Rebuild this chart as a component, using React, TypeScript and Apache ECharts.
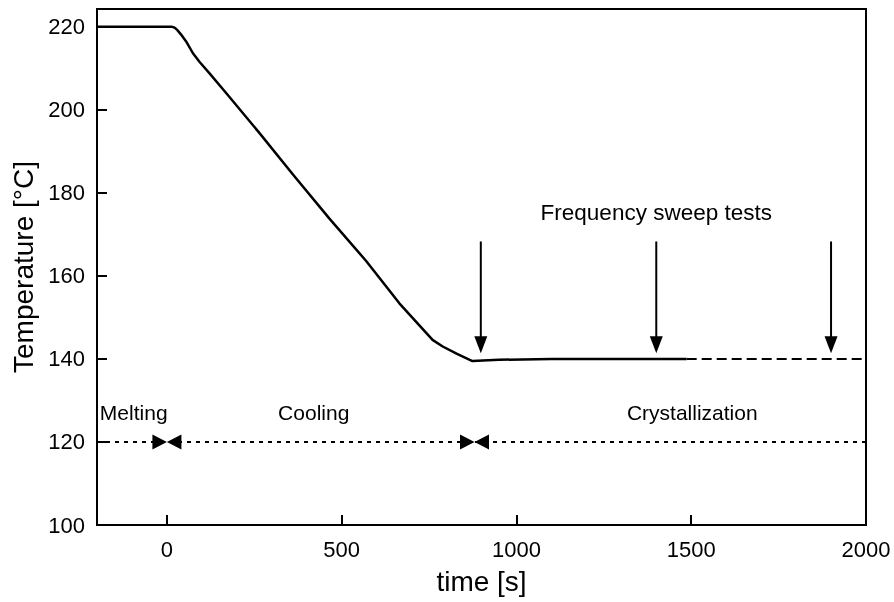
import React, { useEffect, useRef } from "react";
import * as echarts from "echarts";

// Temperature profile (solid part)
const timeSolid = [-200, 15, 22, 30, 40, 55, 74, 93, 122, 170, 265, 360, 465, 570, 665, 760, 789, 830, 874, 950, 1100, 1487];
const tempSolid = [220, 220, 219.8, 219.2, 218.2, 216.5, 213.7, 211.6, 208.8, 204, 194.4, 184.5, 173.8, 163.6, 153.4, 144.6, 143, 141.2, 139.5, 139.8, 140, 140];
// Dashed continuation
const timeDashed = [1487, 2000];
const tempDashed = [140, 140];
// Phase line
const phaseTime = [-200, 2000];
const phaseTemp = [120, 120];
const phaseBoundaries = [0, 880];
// Frequency sweep arrows
const arrowTimes = [898, 1400, 1900];
const arrowTop = 168.3;
const arrowTip = 141.4;
// Annotations
const annotationNames = ["Frequency sweep tests", "Melting", "Cooling", "Crystallization"];
const annotationTime = [1400, -95, 420, 1503];
const annotationTemp = [175.2, 127, 127, 127];
const annotationSize = [22.5, 21, 21, 21];
// Ticks
const xTicks = [0, 500, 1000, 1500, 2000];
const yTicks = [100, 120, 140, 160, 180, 200, 220];

const FONT = "'Liberation Sans', Arial, Helvetica, sans-serif";

export default function App() {
  const ref = useRef<HTMLDivElement>(null);
  useEffect(() => {
    if (!ref.current) return;
    const chart = echarts.init(ref.current, undefined, { renderer: "svg" });
    const arrowSeries: any[] = [];
    arrowTimes.forEach((t, i) => {
      arrowSeries.push({
        name: "arrow" + i,
        type: "line",
        data: [
          [t, arrowTop],
          [t, arrowTip + 1.5],
        ],
        symbol: "none",
        lineStyle: { color: "#000", width: 2 },
        z: 3,
      });
    });
    chart.setOption({
      animation: false,
      textStyle: { fontFamily: FONT },
      grid: {
        left: 97,
        right: 28,
        top: 9,
        bottom: 77,
        show: true,
        borderColor: "#000",
        borderWidth: 2,
        backgroundColor: "transparent",
      },
      xAxis: {
        type: "value",
        min: -200,
        max: 2000,
        name: "time [s]",
        nameLocation: "middle",
        nameGap: 42,
        nameTextStyle: { fontSize: 28, color: "#000", fontFamily: FONT },
        axisLine: { show: true, onZero: false, lineStyle: { color: "#000", width: 2 } },
        axisTick: { show: true, inside: true, length: 10, lineStyle: { color: "#000", width: 2 }, customValues: [0, 500, 1000, 1500] },
        axisLabel: { fontSize: 22, color: "#000", margin: 13, customValues: xTicks, fontFamily: FONT, formatter: (v: number) => String(v) },
        splitLine: { show: false },
      },
      yAxis: {
        type: "value",
        min: 100,
        max: 224.3,
        name: "Temperature [°C]",
        nameLocation: "middle",
        nameGap: 56,
        nameTextStyle: { fontSize: 28, color: "#000", fontFamily: FONT },
        axisLine: { show: true, onZero: false, lineStyle: { color: "#000", width: 2 } },
        axisTick: { show: true, inside: true, length: 10, lineStyle: { color: "#000", width: 2 }, customValues: yTicks.slice(1) },
        axisLabel: { fontSize: 22, color: "#000", margin: 12, customValues: yTicks, fontFamily: FONT, formatter: (v: number) => String(v) },
        splitLine: { show: false },
      },
      series: [
        {
          name: "phase",
          type: "line",
          data: phaseTime.map((t, i) => [t, phaseTemp[i]]),
          symbol: "none",
          lineStyle: { color: "#000", width: 2, type: [4, 5] },
          z: 2,
        },
        {
          name: "boundaries",
          type: "scatter",
          data: phaseBoundaries.map((t) => [t, 120]),
          symbol: "path://M0,0 L10,5 L20,0 L20,10 L10,5 L0,10 Z",
          symbolSize: [29, 15],
          itemStyle: { color: "#000", opacity: 1 },
          z: 4,
        },
        {
          name: "temperature",
          type: "line",
          data: timeSolid.map((t, i) => [t, tempSolid[i]]),
          symbol: "none",
          smooth: false,
          lineStyle: { color: "#000", width: 2.5, join: "round" },
          z: 3,
        },
        {
          name: "temperatureDashed",
          type: "line",
          data: timeDashed.map((t, i) => [t, tempDashed[i]]),
          symbol: "none",
          lineStyle: { color: "#000", width: 2, type: [10, 5] },
          z: 3,
        },
        ...arrowSeries,
        {
          name: "arrowHeads",
          type: "scatter",
          data: arrowTimes.map((t) => [t, arrowTip]),
          symbol: "path://M0,0 L12,0 L6,17 Z",
          symbolSize: [13, 17],
          symbolOffset: [0, "-50%"],
          itemStyle: { color: "#000", opacity: 1 },
          z: 4,
        },
        {
          name: "annotations",
          type: "scatter",
          symbolSize: 0,
          itemStyle: { opacity: 1 },
          data: annotationNames.map((n, i) => ({
            name: n,
            value: [annotationTime[i], annotationTemp[i]],
            label: { fontSize: annotationSize[i] },
          })),
          label: {
            show: true,
            position: "inside",
            formatter: (p: any) => p.name,
            fontSize: 21,
            color: "#000",
            opacity: 1,
            fontFamily: FONT,
          },
          z: 5,
        },
      ],
    });
    return () => chart.dispose();
  }, []);
  return <div ref={ref} style={{ position: "fixed", left: 0, top: 0, width: 894, height: 602 }} />;
}
